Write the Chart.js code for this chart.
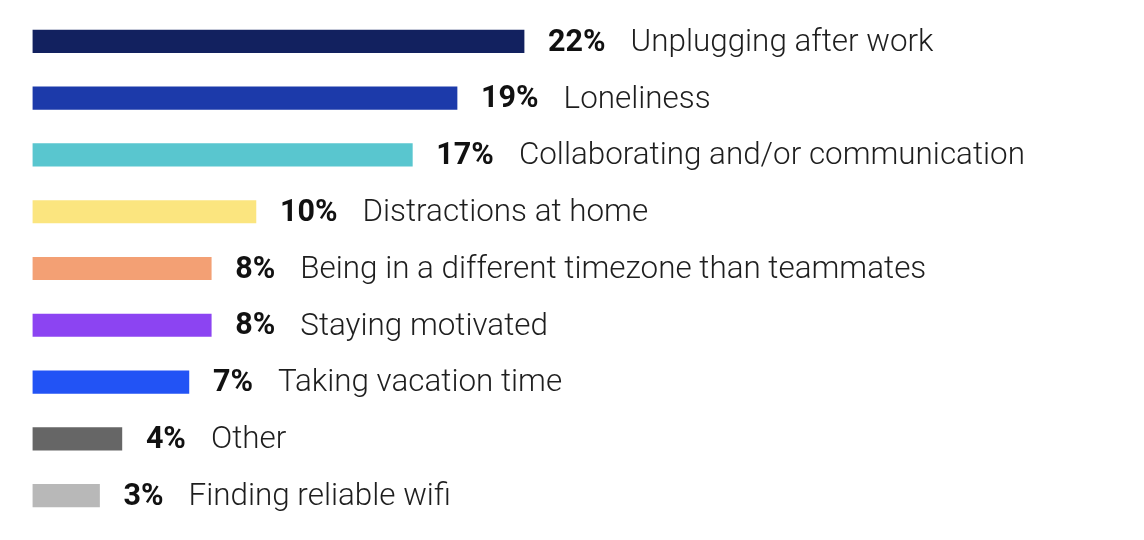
<!DOCTYPE html>
<html>
<head>
  <title>Remote work struggles</title>
  <script src="https://cdn.jsdelivr.net/npm/chart.js"></script>
  <style>
    html, body {
      margin: 0;
      padding: 0;
      background: #fff;
    }
    #chart {
      display: block;
    }
  </style>
</head>
<body>
  <canvas id="chart" width="1144" height="540"></canvas>

  <script>
    const categories = [
      'Unplugging after work',
      'Loneliness',
      'Collaborating and/or communication',
      'Distractions at home',
      'Being in a different timezone than teammates',
      'Staying motivated',
      'Taking vacation time',
      'Other',
      'Finding reliable wifi'
    ];
    const shares = [22, 19, 17, 10, 8, 8, 7, 4, 3];
    const barColors = [
      '#12215f', '#1c3aaa', '#59c6cf', '#fbe57f', '#f3a074',
      '#8c44f2', '#2253f5', '#666666', '#b8b8b8'
    ];

    // draws "22%  Unplugging after work" to the right of each bar
    const barLabels = {
      id: 'barLabels',
      afterDatasetsDraw(chart) {
        const ctx = chart.ctx;
        const meta = chart.getDatasetMeta(0);
        ctx.save();
        ctx.textBaseline = 'middle';
        ctx.textAlign = 'left';
        meta.data.forEach((bar, i) => {
          const pct = shares[i] + '%';
          let x = bar.x + 24;
          const y = bar.y + 1.5;
          ctx.font = 'bold 30.5px Roboto';
          ctx.fillStyle = '#111111';
          ctx.fillText(pct, x, y);
          x += ctx.measureText(pct).width + 25;
          ctx.font = '300 31.4px Roboto';
          ctx.fillStyle = '#1e1e1e';
          ctx.fillText(categories[i], x, y);
        });
        ctx.restore();
      }
    };

    const ctx = document.getElementById('chart').getContext('2d');
    new Chart(ctx, {
      type: 'bar',
      data: {
        labels: categories,
        datasets: [{
          data: shares,
          backgroundColor: barColors,
          borderWidth: 0,
          barThickness: 22.5
        }]
      },
      options: {
        indexAxis: 'y',
        responsive: false,
        animation: false,
        layout: {
          padding: { left: 32.5, right: 39, top: 13, bottom: 16 }
        },
        plugins: {
          legend: { display: false },
          tooltip: { enabled: false }
        },
        scales: {
          x: {
            display: false,
            min: 0,
            max: 48
          },
          y: {
            display: false
          }
        }
      },
      plugins: [barLabels]
    });
  </script>
</body>
</html>
